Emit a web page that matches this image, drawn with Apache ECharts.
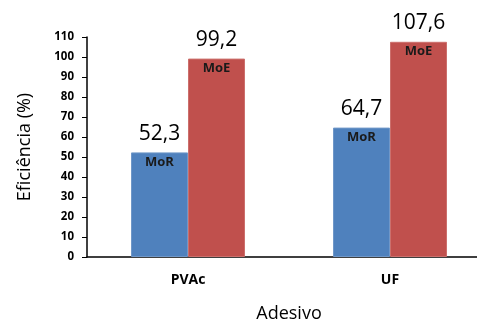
<!DOCTYPE html>
<html>
<head>
<meta charset="utf-8">
<script src="https://cdn.jsdelivr.net/npm/echarts@6/dist/echarts.min.js"></script>
<style>
  html, body { margin: 0; padding: 0; background: #fff; }
  #chart { width: 477px; height: 324px; }
</style>
</head>
<body>
<div id="chart"></div>
<script>
// Adhesive efficiency (%) for MoR and MoE
const categories = ['PVAc', 'UF'];
const seriesNames = ['MoR', 'MoE'];
const morValues = [52.3, 64.7];
const moeValues = [99.2, 107.6];
const yTicks = { min: 0, max: 110, interval: 10 };

const colors = ['#4F81BD', '#C0504D'];
const edgeColors = ['#6F97C8', '#CC6F6C'];
const fontFamily = '"Open Sans", "Liberation Sans", sans-serif';
const fmt = v => v.toFixed(1).replace('.', ',');

const chart = echarts.init(document.getElementById('chart'));

function barSeries(name, values, idx, axisIndex, labelCfg, transparent) {
  return {
    name: name,
    type: 'bar',
    xAxisIndex: axisIndex,
    data: values,
    barWidth: 57,
    barGap: '0%',
    itemStyle: transparent
      ? { color: 'rgba(0,0,0,0)' }
      : { color: colors[idx], borderColor: edgeColors[idx], borderWidth: 1 },
    label: labelCfg,
    silent: true,
    z: transparent ? 3 : 2
  };
}

const innerLabel = (text) => ({
  show: true,
  position: 'insideTop',
  distance: 3,
  formatter: text,
  color: '#1a1a1a',
  fontWeight: 'bold',
  fontSize: 13,
  fontFamily: fontFamily
});

const valueLabel = {
  show: true,
  position: 'top',
  distance: 8,
  formatter: p => fmt(p.value),
  color: '#000',
  fontSize: 21,
  fontFamily: fontFamily
};

const catAxis = (show) => ({
  type: 'category',
  data: categories,
  show: show,
  axisLine: { show: show, lineStyle: { color: '#000', width: 1.5 } },
  axisTick: { show: false },
  axisLabel: {
    show: show,
    color: '#000',
    fontWeight: 'bold',
    fontSize: 14,
    fontFamily: fontFamily,
    margin: 16
  },
  name: show ? 'Adesivo' : '',
  nameLocation: 'middle',
  nameGap: 48,
  nameTextStyle: { color: '#000', fontSize: 18, fontFamily: fontFamily }
});

chart.setOption({
  animation: false,
  backgroundColor: '#fff',
  grid: {
    left: 87, top: 37, width: 404, height: 220,
    containLabel: false,
    outerBoundsMode: 'none'
  },
  xAxis: [catAxis(true), catAxis(false)],
  yAxis: {
    type: 'value',
    min: yTicks.min,
    max: yTicks.max,
    interval: yTicks.interval,
    axisLine: { show: true, lineStyle: { color: '#000', width: 1.5 } },
    axisTick: { show: true, length: 5, lineStyle: { color: '#000' } },
    splitLine: { show: false },
    axisLabel: {
      color: '#000',
      fontWeight: 'bold',
      fontSize: 11.5,
      fontFamily: fontFamily,
      margin: 13
    },
    name: 'Eficiência (%)',
    nameLocation: 'middle',
    nameRotate: 90,
    nameGap: 53,
    nameTextStyle: { color: '#000', fontSize: 18, fontFamily: fontFamily }
  },
  series: [
    barSeries(seriesNames[0], morValues, 0, 0, innerLabel(seriesNames[0]), false),
    barSeries(seriesNames[1], moeValues, 1, 0, innerLabel(seriesNames[1]), false),
    barSeries(seriesNames[0] + ' valor', morValues, 0, 1, valueLabel, true),
    barSeries(seriesNames[1] + ' valor', moeValues, 1, 1, valueLabel, true)
  ]
});
</script>
</body>
</html>
